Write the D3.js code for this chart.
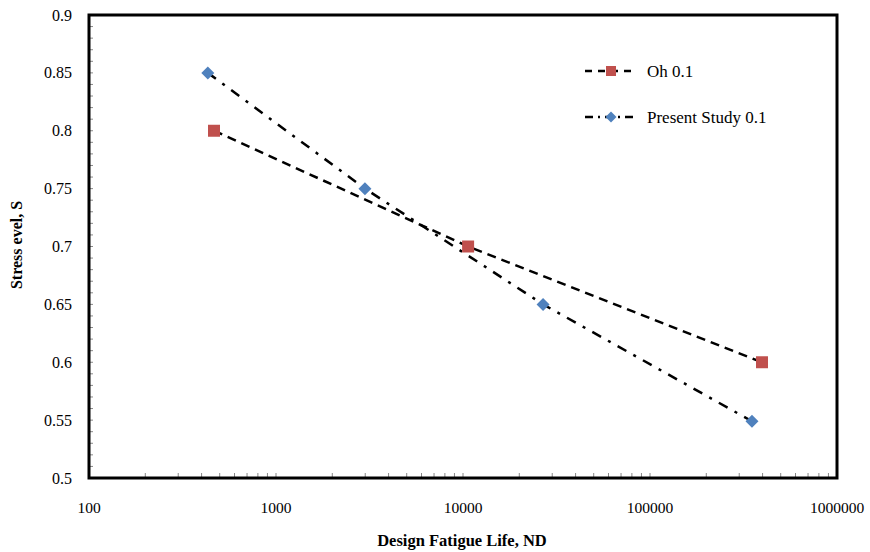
<!DOCTYPE html>
<html>
<head>
<meta charset="utf-8">
<script src="https://cdn.jsdelivr.net/npm/d3@7"></script>
<style>
  body { margin: 0; background: #fff; }
  text { font-family: "Liberation Serif", "DejaVu Serif", serif; fill: #000; }
</style>
</head>
<body>
<div id="chart"></div>
<script>
// values
var ohLife = [466, 10650, 397000];
var ohStress = [0.8, 0.7, 0.6];
var presentLife = [432, 2990, 26800, 351000];
var presentStress = [0.85, 0.75, 0.65, 0.549];
var xTicks = [100, 1000, 10000, 100000, 1000000];
var yTicks = [0.5, 0.55, 0.6, 0.65, 0.7, 0.75, 0.8, 0.85, 0.9];
var seriesNames = ["Oh 0.1", "Present Study 0.1"];

var W = 870, H = 552;
var m = {left: 89, top: 15, right: 33, bottom: 74};

var svg = d3.select('#chart').append('svg').attr('width', W).attr('height', H);

var x = d3.scaleLog().domain([100, 1000000]).range([m.left, W - m.right]);
var y = d3.scaleLinear().domain([0.5, 0.9]).range([H - m.bottom, m.top]);

// minor ticks (inside)
var yMinor = d3.range(50, 91).map(function(d){ return d / 100; });
svg.append('g').selectAll('line').data(yMinor).enter().append('line')
    .attr('x1', m.left).attr('x2', m.left + 4)
    .attr('y1', function(d){ return y(d); }).attr('y2', function(d){ return y(d); })
    .attr('stroke', '#888').attr('stroke-width', 1);

var xMinor = [];
[100, 1000, 10000, 100000].forEach(function(dec){
    for (var k = 2; k <= 9; k++) xMinor.push(dec * k);
});
svg.append('g').selectAll('line').data(xMinor.concat(xTicks)).enter().append('line')
    .attr('x1', function(d){ return x(d); }).attr('x2', function(d){ return x(d); })
    .attr('y1', H - m.bottom).attr('y2', H - m.bottom - 5)
    .attr('stroke', '#888').attr('stroke-width', 1);

// frame
svg.append('rect')
    .attr('x', m.left).attr('y', m.top)
    .attr('width', W - m.left - m.right).attr('height', H - m.top - m.bottom)
    .attr('fill', 'none').attr('stroke', '#000').attr('stroke-width', 3);

// tick labels
svg.append('g').selectAll('text').data(yTicks).enter().append('text')
    .attr('x', m.left - 17).attr('y', function(d){ return y(d); })
    .attr('dy', '0.35em').attr('text-anchor', 'end').attr('font-size', 16)
    .text(function(d){ return d3.format('')(d); });

svg.append('g').selectAll('text').data(xTicks).enter().append('text')
    .attr('x', function(d){ return x(d); }).attr('y', 513)
    .attr('text-anchor', 'middle').attr('font-size', 15.5)
    .text(function(d){ return d; });

// axis titles
svg.append('text').attr('x', 462).attr('y', 546).attr('text-anchor', 'middle')
    .attr('font-size', 16.5).attr('font-weight', 'bold').text('Design Fatigue Life, ND');
svg.append('text').attr('transform', 'translate(22,' + 245 + ') rotate(-90)')
    .attr('text-anchor', 'middle').attr('font-size', 16).attr('font-weight', 'bold')
    .text('Stress evel, S');

var line = d3.line().x(function(d){ return x(d[0]); }).y(function(d){ return y(d[1]); });
var ohData = d3.zip(ohLife, ohStress);
var prData = d3.zip(presentLife, presentStress);

var ohDash = '9,6', prDash = '10,8,3,8';

svg.append('path').datum(ohData).attr('d', line).attr('fill', 'none')
    .attr('stroke', '#000').attr('stroke-width', 2.5).attr('stroke-dasharray', ohDash);
svg.append('path').datum(prData).attr('d', line).attr('fill', 'none')
    .attr('stroke', '#000').attr('stroke-width', 2.5).attr('stroke-dasharray', prDash);

function square(s){ return 'M' + (-s) + ',' + (-s) + 'H' + s + 'V' + s + 'H' + (-s) + 'Z'; }
function diamond(s){ return 'M0,' + (-s) + 'L' + s + ',0L0,' + s + 'L' + (-s) + ',0Z'; }

svg.append('g').selectAll('path').data(ohData).enter().append('path')
    .attr('d', square(6)).attr('fill', '#C0504D')
    .attr('transform', function(d){ return 'translate(' + x(d[0]) + ',' + y(d[1]) + ')'; });
svg.append('g').selectAll('path').data(prData).enter().append('path')
    .attr('d', diamond(6.5)).attr('fill', '#4F81BD')
    .attr('transform', function(d){ return 'translate(' + x(d[0]) + ',' + y(d[1]) + ')'; });

// legend
var leg = svg.append('g');
[['7,6', square(5), '#C0504D', 71], ['8,5,2,5', diamond(5.5), '#4F81BD', 117]].forEach(function(s, i){
    leg.append('line').attr('x1', 585).attr('x2', 636).attr('y1', s[3]).attr('y2', s[3])
        .attr('stroke', '#000').attr('stroke-width', 2.5).attr('stroke-dasharray', s[0]);
    leg.append('path').attr('d', s[1]).attr('fill', s[2])
        .attr('transform', 'translate(611,' + s[3] + ')');
    leg.append('text').attr('x', 647).attr('y', s[3]).attr('dy', '0.35em')
        .attr('font-size', 17).text(seriesNames[i]);
});
</script>
</body>
</html>
